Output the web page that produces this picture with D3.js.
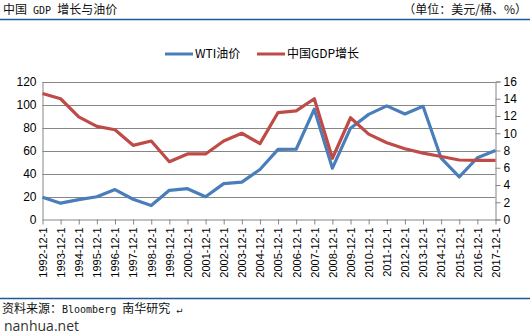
<!DOCTYPE html>
<html>
<head>
<meta charset="utf-8">
<script src="https://cdn.jsdelivr.net/npm/d3@7"></script>
<style>
  html, body { margin: 0; padding: 0; background: #fff; }
  svg { display: block; }
</style>
</head>
<body>
<svg id="chart" width="530" height="335"></svg>
<script>
// Years (December observations)
const years = ["1992-12-1","1993-12-1","1994-12-1","1995-12-1","1996-12-1","1997-12-1","1998-12-1",
  "1999-12-1","2000-12-1","2001-12-1","2002-12-1","2003-12-1","2004-12-1","2005-12-1","2006-12-1",
  "2007-12-1","2008-12-1","2009-12-1","2010-12-1","2011-12-1","2012-12-1","2013-12-1","2014-12-1",
  "2015-12-1","2016-12-1","2017-12-1"];

// WTI crude price, USD per barrel (left axis)
const wti = [19.4, 14.2, 17.3, 19.8, 26.0, 17.6, 12.1, 25.4, 26.8, 19.8, 31.2, 32.5, 43.5, 61.0,
  61.1, 95.9, 44.6, 79.4, 91.4, 98.8, 91.8, 98.4, 53.3, 37.0, 53.7, 60.0];

// China GDP growth, % (right axis)
const gdp = [14.6, 14.0, 11.9, 10.8, 10.4, 8.6, 9.1, 6.7, 7.6, 7.6, 9.1, 10.0, 8.8, 12.4, 12.6,
  14.0, 7.1, 11.8, 9.9, 8.9, 8.2, 7.7, 7.3, 6.9, 6.85, 6.85];

const leftTicks = [0, 20, 40, 60, 80, 100, 120];
const rightTicks = [0, 2, 4, 6, 8, 10, 12, 14, 16];

const seriesNames = ["WTI油价", "中国GDP增长"];
const colors = ["#4a7ebb", "#be4b48"];

const svg = d3.select("#chart");
const cjk = "'Noto Sans CJK SC', 'Noto Sans', sans-serif";
const mono = "'DejaVu Sans Mono', 'Liberation Mono', monospace";
const latin = "'Liberation Sans', Arial, sans-serif";

const plot = { left: 42.5, right: 495.5, top: 81.5, bottom: 219.5 };

const x = d3.scalePoint().domain(years).range([plot.left, plot.right]);
const yL = d3.scaleLinear().domain([0, 120]).range([plot.bottom, plot.top]);
const yR = d3.scaleLinear().domain([0, 16]).range([plot.bottom, plot.top]);

// Mixed-script text: CJK runs at full width, Latin runs in a half-width mono face
function mixedText(sel, parts, size, latinSize) {
  parts.forEach(p => {
    sel.append("tspan")
      .attr("font-family", p.latin ? mono : cjk)
      .attr("font-size", p.latin ? latinSize : size)
      .text(p.t);
  });
}

// Header
const title = svg.append("text").attr("x", 3).attr("y", 14).attr("fill", "#111");
mixedText(title, [{t: "中国"}, {t: " GDP ", latin: true}, {t: "增长与油价"}], 12, 10);

svg.append("text").attr("x", 527).attr("y", 14).attr("text-anchor", "end")
  .attr("font-family", cjk).attr("font-size", 12).attr("fill", "#111")
  .text("（单位：美元/桶、%）");
svg.append("line").attr("x1", 0).attr("x2", 530).attr("y1", 19.5).attr("y2", 19.5)
  .attr("stroke", "#1f5a96").attr("stroke-width", 1.5);

// Footer
svg.append("line").attr("x1", 0).attr("x2", 530).attr("y1", 298.5).attr("y2", 298.5)
  .attr("stroke", "#1f5a96").attr("stroke-width", 1.5);
const source = svg.append("text").attr("x", 2).attr("y", 313).attr("fill", "#111");
mixedText(source, [{t: "资料来源："}, {t: "Bloomberg ", latin: true}, {t: "南华研究"}, {t: " ↵", latin: true}], 12, 10);
svg.append("text").attr("x", 4).attr("y", 331)
  .attr("font-family", "'Open Sans', 'Noto Sans', sans-serif").attr("font-size", 14).attr("fill", "#333")
  .text("nanhua.net");

// Gridlines
svg.append("g").selectAll("line").data(leftTicks.filter(d => d > 0)).join("line")
  .attr("x1", plot.left).attr("x2", plot.right)
  .attr("y1", d => Math.round(yL(d)) + 0.5).attr("y2", d => Math.round(yL(d)) + 0.5)
  .attr("stroke", "#868686").attr("stroke-width", 1);

// Left axis
const axL = svg.append("g").attr("transform", `translate(${plot.left},0)`)
  .call(d3.axisLeft(yL).tickValues(leftTicks).tickSize(0).tickPadding(6));
axL.select(".domain").attr("stroke", "#868686");
axL.selectAll("text").attr("font-family", latin).attr("font-size", 12).attr("fill", "#000");

// Right axis
const axR = svg.append("g").attr("transform", `translate(${plot.right},0)`)
  .call(d3.axisRight(yR).tickValues(rightTicks).tickSize(5).tickPadding(3));
axR.select(".domain").attr("stroke", "#868686");
axR.selectAll("line").attr("stroke", "#868686");
axR.selectAll("text").attr("font-family", latin).attr("font-size", 12).attr("fill", "#000");

// Bottom axis
const axB = svg.append("g").attr("transform", `translate(0,${plot.bottom})`)
  .call(d3.axisBottom(x).tickSize(5).tickPadding(4).tickSizeOuter(0));
axB.select(".domain").attr("stroke", "#868686");
axB.selectAll("line").attr("stroke", "#868686");
axB.selectAll("text")
  .attr("font-family", latin).attr("font-size", 11).attr("fill", "#000")
  .attr("text-anchor", "end")
  .attr("transform", "rotate(-90)")
  .attr("x", -8).attr("y", 0).attr("dy", "0.35em");

// Series lines
const lineL = d3.line().x((d, i) => x(years[i])).y(d => yL(d));
const lineR = d3.line().x((d, i) => x(years[i])).y(d => yR(d));

svg.append("path").datum(wti).attr("d", lineL)
  .attr("fill", "none").attr("stroke", colors[0]).attr("stroke-width", 3.2)
  .attr("stroke-linejoin", "round");
svg.append("path").datum(gdp).attr("d", lineR)
  .attr("fill", "none").attr("stroke", colors[1]).attr("stroke-width", 3.2)
  .attr("stroke-linejoin", "round");

// Legend
const legend = svg.append("g").attr("transform", "translate(0,54)");
const legendX = [165, 257];
seriesNames.forEach((name, i) => {
  const g = legend.append("g").attr("transform", `translate(${legendX[i]},0)`);
  g.append("line").attr("x1", 0).attr("x2", 28).attr("y1", 0).attr("y2", 0)
    .attr("stroke", colors[i]).attr("stroke-width", 3);
  g.append("text").attr("x", 30).attr("y", 0).attr("dy", "0.35em")
    .attr("font-family", cjk).attr("font-size", 12).attr("fill", "#000")
    .text(name);
});
</script>
</body>
</html>
